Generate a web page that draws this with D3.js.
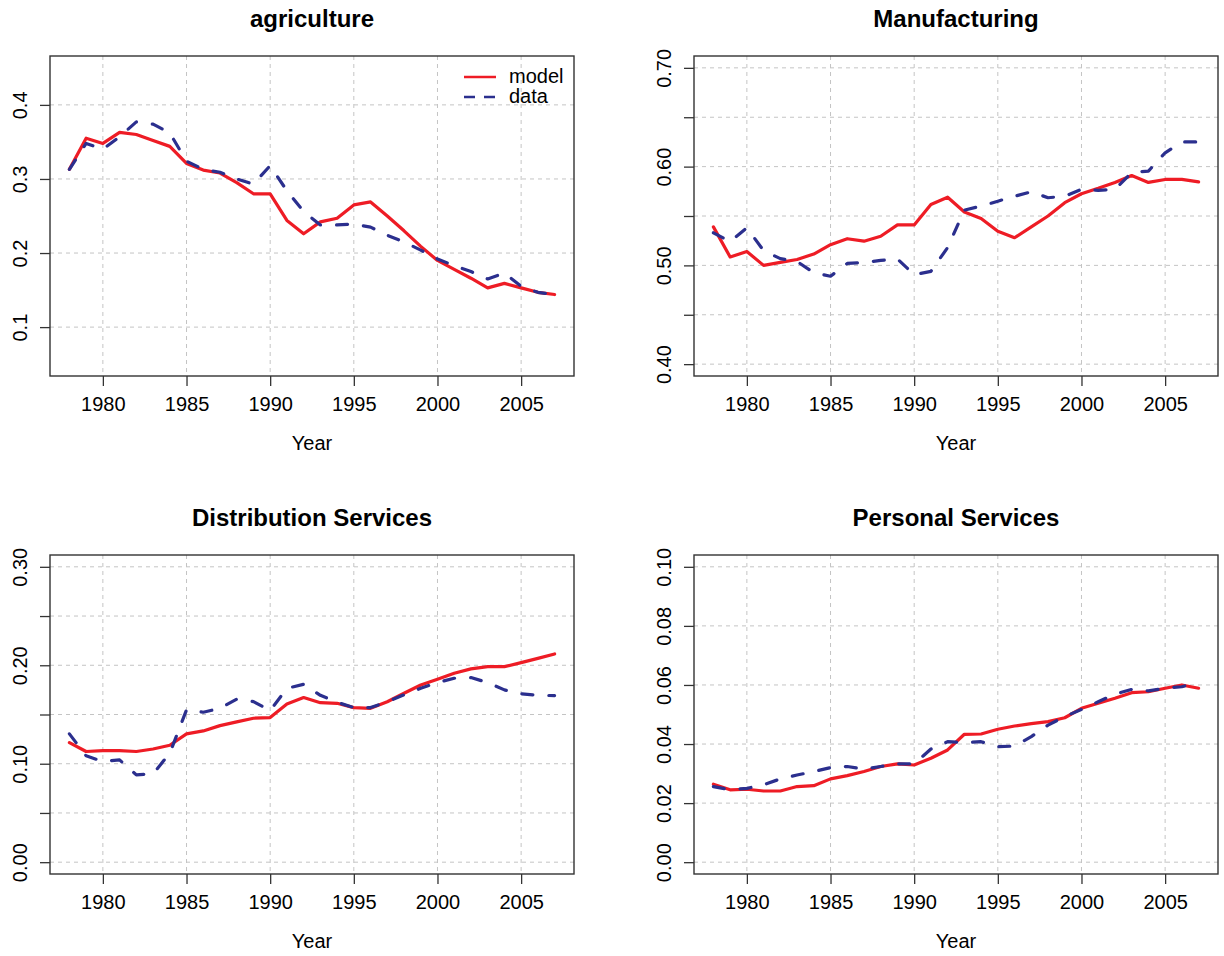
<!DOCTYPE html>
<html>
<head>
<meta charset="utf-8">
<script src="https://cdn.jsdelivr.net/npm/d3@7"></script>
<style>
  html, body { margin: 0; padding: 0; background: #ffffff; }
  svg { display: block; font-family: "Liberation Sans", Arial, Helvetica, sans-serif; }
</style>
</head>
<body>
<svg id="chart" width="1224" height="956"></svg>
<script>
// Sector shares, model vs. data, 1978-2007
const years = d3.range(1978, 2008);
const yearTicks = [1980, 1985, 1990, 1995, 2000, 2005];

const agModel = [0.313,0.355,0.348,0.363,0.360,0.352,0.344,0.321,0.312,0.308,0.295,0.280,0.280,0.244,0.226,0.242,0.247,0.265,0.269,0.250,0.230,0.209,0.190,0.178,0.166,0.153,0.159,0.153,0.147,0.144];
const agData  = [0.313,0.348,0.340,0.357,0.377,0.374,0.362,0.324,0.313,0.309,0.300,0.293,0.318,0.284,0.256,0.238,0.238,0.239,0.235,0.224,0.215,0.204,0.192,0.183,0.175,0.165,0.173,0.155,0.147,0.144];

const mfgModel = [0.539,0.5085,0.514,0.500,0.503,0.506,0.5115,0.521,0.527,0.5245,0.5295,0.541,0.541,0.5617,0.569,0.554,0.5475,0.5345,0.528,0.539,0.550,0.5635,0.5725,0.578,0.584,0.591,0.584,0.587,0.587,0.5845];
const mfgData  = [0.533,0.524,0.538,0.515,0.5068,0.504,0.4925,0.489,0.502,0.503,0.505,0.5065,0.4905,0.494,0.518,0.556,0.560,0.565,0.570,0.5745,0.5685,0.570,0.577,0.576,0.577,0.594,0.5955,0.614,0.625,0.625];

const distModel = [0.1215,0.1124,0.1134,0.1134,0.1124,0.115,0.1188,0.1303,0.1333,0.1387,0.1425,0.1462,0.1469,0.1607,0.1672,0.162,0.1614,0.157,0.1563,0.163,0.1716,0.180,0.1858,0.1919,0.1963,0.1986,0.1986,0.2027,0.207,0.2115];
const distData  = [0.1303,0.108,0.1022,0.1039,0.0887,0.0897,0.1107,0.1547,0.1523,0.1563,0.1655,0.1631,0.154,0.1766,0.1807,0.1695,0.1624,0.157,0.157,0.163,0.170,0.1766,0.1824,0.1868,0.1875,0.1824,0.175,0.171,0.1695,0.1692];

const persModel = [0.0264,0.0245,0.0247,0.0241,0.0241,0.0256,0.0259,0.0282,0.0293,0.0307,0.0324,0.0333,0.0329,0.0352,0.038,0.0433,0.0434,0.045,0.0461,0.0469,0.0476,0.0489,0.0521,0.0538,0.0555,0.0574,0.0577,0.0589,0.060,0.0589];
const persData  = [0.0256,0.0245,0.025,0.0262,0.0282,0.0295,0.0307,0.032,0.0324,0.0315,0.0324,0.0333,0.0333,0.0383,0.0408,0.0405,0.0408,0.0391,0.0393,0.0425,0.0464,0.0493,0.0517,0.0543,0.0569,0.0585,0.058,0.0589,0.0594,0.0610];

// y ranges, tick marks and the subset of ticks that carry a label
const agLim = [0.05, 0.45];
const agTicks = [0.1, 0.2, 0.3, 0.4];
const agLabelled = [0.1, 0.2, 0.3, 0.4];

const mfgLim = [0.40, 0.70];
const mfgTicks = [0.40, 0.45, 0.50, 0.55, 0.60, 0.65, 0.70];
const mfgLabelled = [0.40, 0.50, 0.60, 0.70];

const distLim = [0.00, 0.30];
const distTicks = [0.00, 0.05, 0.10, 0.15, 0.20, 0.25, 0.30];
const distLabelled = [0.00, 0.10, 0.20, 0.30];

const persLim = [0.00, 0.10];
const persTicks = [0.00, 0.02, 0.04, 0.06, 0.08, 0.10];
const persLabelled = [0.00, 0.02, 0.04, 0.06, 0.08, 0.10];

const titles = ["agriculture", "Manufacturing", "Distribution Services", "Personal Services"];
const legendLabels = ["model", "data"];

const RED = "#ee1c25";
const BLUE = "#2b2f8e";

const panels = [
  { title: titles[0], model: agModel,   data: agData,   lim: agLim,   ticks: agTicks,   labelled: agLabelled,   fmt: d3.format(".1f"), box: [50, 56, 574, 376], legend: true },
  { title: titles[1], model: mfgModel,  data: mfgData,  lim: mfgLim,  ticks: mfgTicks,  labelled: mfgLabelled,  fmt: d3.format(".2f"), box: [694, 56, 1218, 376] },
  { title: titles[2], model: distModel, data: distData, lim: distLim, ticks: distTicks, labelled: distLabelled, fmt: d3.format(".2f"), box: [50, 555, 574, 874] },
  { title: titles[3], model: persModel, data: persData, lim: persLim, ticks: persTicks, labelled: persLabelled, fmt: d3.format(".2f"), box: [694, 555, 1218, 874] }
];

const svg = d3.select("#chart");

// 4% padding on both ends of each axis range
function padded(lo, hi) {
  const p = (hi - lo) * 0.04;
  return [lo - p, hi + p];
}

panels.forEach(p => {
  const [x0, y0, x1, y1] = p.box;
  const g = svg.append("g");

  const x = d3.scaleLinear().domain(padded(d3.min(years), d3.max(years))).range([x0, x1]);
  const y = d3.scaleLinear().domain(padded(p.lim[0], p.lim[1])).range([y1, y0]);

  // dashed reference grid
  const grid = g.append("g")
    .attr("stroke", "#c4c4c4")
    .attr("stroke-width", 1)
    .attr("stroke-dasharray", "4,4");
  grid.selectAll("line.v").data(yearTicks).join("line")
    .attr("class", "v")
    .attr("x1", d => x(d)).attr("x2", d => x(d))
    .attr("y1", y0).attr("y2", y1);
  grid.selectAll("line.h").data(p.ticks).join("line")
    .attr("class", "h")
    .attr("x1", x0).attr("x2", x1)
    .attr("y1", d => y(d)).attr("y2", d => y(d));

  // x axis
  const xa = g.append("g")
    .attr("transform", `translate(0,${y1})`)
    .call(d3.axisBottom(x).tickValues(yearTicks).tickSize(10).tickFormat(d3.format("d")));
  xa.select(".domain").remove();
  xa.selectAll(".tick line").attr("stroke", "#333").attr("stroke-width", 1.3);
  xa.selectAll(".tick text")
    .attr("y", 35).attr("dy", 0)
    .attr("fill", "#000")
    .style("font-size", "20px")
    .style("font-family", "'Liberation Sans', Arial, Helvetica, sans-serif");

  // y axis with labels turned to read upward
  const ya = g.append("g")
    .attr("transform", `translate(${x0},0)`)
    .call(d3.axisLeft(y).tickValues(p.ticks).tickSize(10)
      .tickFormat(d => p.labelled.some(v => Math.abs(v - d) < 1e-9) ? p.fmt(d) : ""));
  ya.select(".domain").remove();
  ya.selectAll(".tick line").attr("stroke", "#333").attr("stroke-width", 1.3);
  ya.selectAll(".tick text")
    .attr("x", 0).attr("y", 0).attr("dy", 0)
    .attr("transform", "translate(-23,0) rotate(-90)")
    .attr("text-anchor", "middle")
    .attr("fill", "#000")
    .style("font-size", "20px")
    .style("font-family", "'Liberation Sans', Arial, Helvetica, sans-serif");

  // series
  const line = d3.line().x((d, i) => x(years[i])).y(d => y(d));
  g.append("path").datum(p.model)
    .attr("d", line)
    .attr("fill", "none")
    .attr("stroke", RED)
    .attr("stroke-width", 3.2)
    .attr("stroke-linejoin", "round")
    .attr("stroke-linecap", "round");
  g.append("path").datum(p.data)
    .attr("d", line)
    .attr("fill", "none")
    .attr("stroke", BLUE)
    .attr("stroke-width", 3.2)
    .attr("stroke-dasharray", "11,16")
    .attr("stroke-linejoin", "round")
    .attr("stroke-linecap", "round");

  // plot frame
  g.append("rect")
    .attr("x", x0).attr("y", y0)
    .attr("width", x1 - x0).attr("height", y1 - y0)
    .attr("fill", "none")
    .attr("stroke", "#333")
    .attr("stroke-width", 1.4);

  // title and axis name
  g.append("text")
    .attr("x", (x0 + x1) / 2).attr("y", y0 - 29)
    .attr("text-anchor", "middle")
    .attr("font-weight", "bold")
    .style("font-size", "24px")
    .text(p.title);
  g.append("text")
    .attr("x", (x0 + x1) / 2).attr("y", y1 + 74)
    .attr("text-anchor", "middle")
    .style("font-size", "20px")
    .text("Year");

  if (p.legend) {
    const lg = g.append("g");
    const styles = [
      { color: RED, dash: null },
      { color: BLUE, dash: "11,9" }
    ];
    legendLabels.forEach((lab, i) => {
      const ly = 77 + i * 20;
      lg.append("line")
        .attr("x1", 464).attr("x2", 496)
        .attr("y1", ly).attr("y2", ly)
        .attr("stroke", styles[i].color)
        .attr("stroke-width", 2.5)
        .attr("stroke-dasharray", styles[i].dash);
      lg.append("text")
        .attr("x", 509).attr("y", ly + 6)
        .style("font-size", "20px")
        .text(lab);
    });
  }
});
</script>
</body>
</html>
